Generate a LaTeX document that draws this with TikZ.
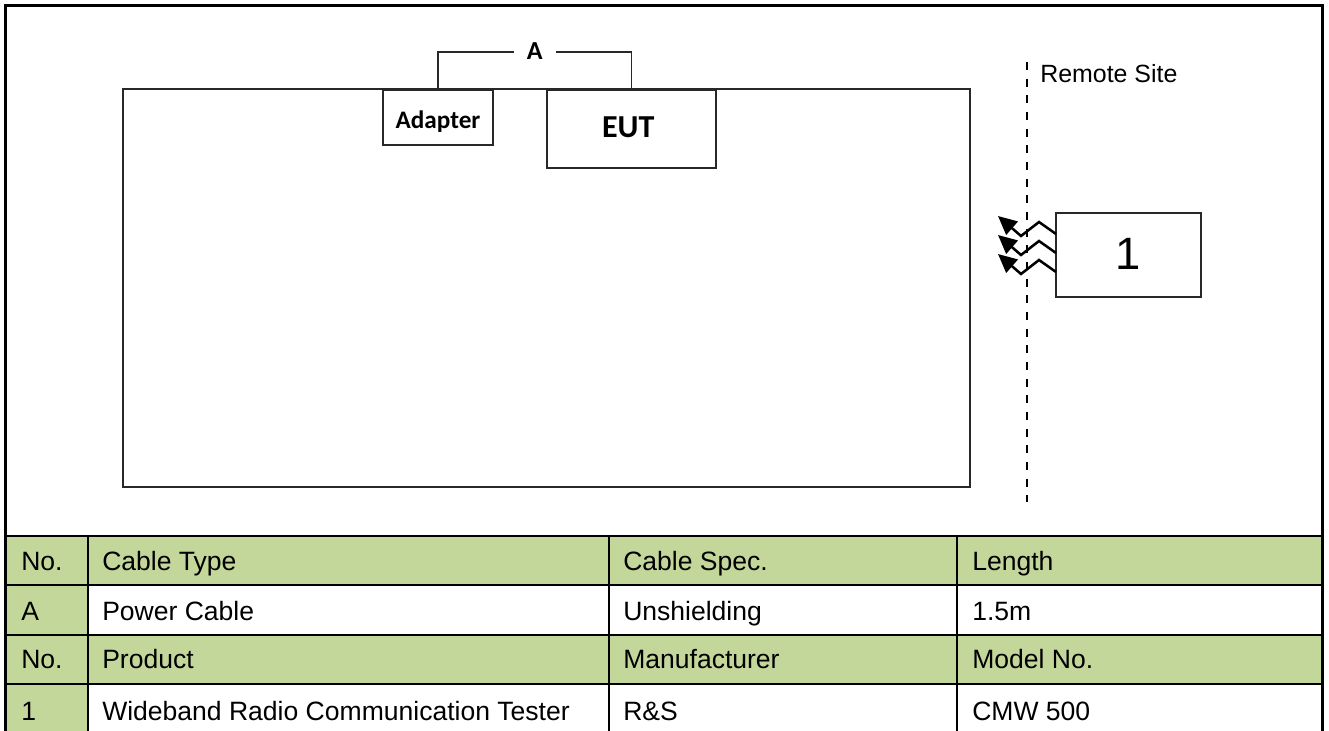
\documentclass[tikz,border=0pt]{standalone}
\usepackage{fontspec}
\setmainfont{Liberation Sans}
\newfontfamily\calib{Carlito}
\usetikzlibrary{arrows.meta,calc}
\definecolor{cellgreen}{RGB}{196,215,155}
\definecolor{boxline}{RGB}{40,40,40}
\begin{document}
\begin{tikzpicture}[x=0.75pt,y=-0.75pt,
  unitbox/.style={draw=boxline, line width=1.1pt, fill=white, inner sep=0pt,
    outer sep=0pt, anchor=north west},
  cable/.style={draw=boxline, line width=1.1pt},
  cablelabel/.style={fill=white, inner xsep=10pt, inner ysep=1pt,
    font=\calib\bfseries\fontsize{19.5pt}{22pt}\selectfont,
    text height=12pt, text depth=0pt},
  wave/.style={line width=1.9pt, line join=miter,
    -{Triangle[length=14pt,width=13pt]}},
  sitebound/.style={line width=1.1pt, dash pattern=on 6pt off 6.5pt},
  frame/.style={line width=2.25pt},
  grid/.style={line width=1.5pt},
  cell/.style={anchor=base west, inner sep=0pt,
    font=\fontsize{19.9pt}{23pt}\selectfont}]
\useasboundingbox (0,0) rectangle (1329,731);

% test table area and equipment
\node[unitbox, minimum width=635.25pt, minimum height=298.5pt] (table) at (123,89) {};
\node[unitbox, minimum width=82.5pt, minimum height=41.25pt,
  font=\calib\bfseries\fontsize{18.9pt}{22pt}\selectfont,
  text height=15.8pt, text depth=0pt] (adapter) at (383,90) {Adapter};
\node[unitbox, minimum width=126.75pt, minimum height=58.5pt,
  font=\calib\bfseries\fontsize{24pt}{28pt}\selectfont,
  text height=13.5pt, text depth=0pt] (eut) at (547,90) {\hspace*{-5pt}EUT};

% power cable A
\draw[cable] (adapter.north) -- ++(0,-38) -| node[pos=0.25, cablelabel] (lblA) {A} (eut.north);

% remote site boundary
\coordinate (bndtop) at (1027,62);
\coordinate (bndbot) at (1027,502);
\draw[sitebound] (bndtop) -- (bndbot);
\node[anchor=base west, inner sep=0pt, font=\fontsize{18.7pt}{22pt}\selectfont]
  (remote) at (1040,83) {Remote Site};

% radio communication tester with radiated link
\node[unitbox, minimum width=108.75pt, minimum height=63pt,
  font=\fontsize{34pt}{38pt}\selectfont,
  text height=22.5pt, text depth=0pt] (tester) at (1056,213) {1};
\foreach \dy in {-21,-2,17}
  \draw[wave] ($(tester.west)+(0,\dy)$) -- ++(-17,-12) -- ++(-18,14) -- ++(-23,-20);

% cable and equipment list
\fill[cellgreen] (5.5,536) rectangle (1322.5,585);
\fill[cellgreen] (5.5,635) rectangle (1322.5,684);
\fill[cellgreen] (5.5,585) rectangle (88,635);
\fill[cellgreen] (5.5,684) rectangle (88,735);
\foreach \yy in {536,585,635,684}
  \draw[grid] (5.5,\yy) -- (1322.5,\yy);
\foreach \xx in {88,609,957}
  \draw[grid] (\xx,536) -- (\xx,735);

\node[cell] (c11) at (21,570) {No.};
\node[cell] (c12) at (102,570) {Cable Type};
\node[cell] (c13) at (623,570) {Cable Spec.};
\node[cell] (c14) at (972,570) {Length};
\node[cell] (c21) at (21,620) {A};
\node[cell] (c22) at (102,620) {Power Cable};
\node[cell] (c23) at (623,620) {Unshielding};
\node[cell] (c24) at (972,620) {1.5m};
\node[cell] (c31) at (21,668) {No.};
\node[cell] (c32) at (102,668) {Product};
\node[cell] (c33) at (623,668) {Manufacturer};
\node[cell] (c34) at (972,668) {Model No.};
\node[cell] (c41) at (21,720) {1};
\node[cell] (c42) at (102,720) {Wideband Radio Communication Tester};
\node[cell] (c43) at (623,720) {R\&S};
\node[cell] (c44) at (972,720) {CMW 500};

% outer frame
\draw[frame] (5.5,740) -- (5.5,5.5) -- (1322.5,5.5) -- (1322.5,740);
\end{tikzpicture}
\end{document}
